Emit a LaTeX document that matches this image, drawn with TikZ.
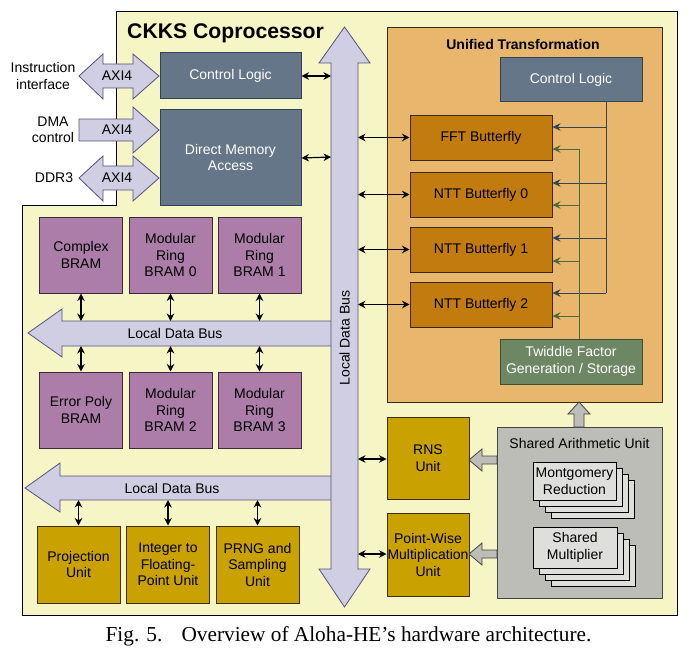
\documentclass[tikz,border=0pt]{standalone}
\usepackage{fontspec}
\setmainfont{Liberation Serif}
\newfontfamily\arialf{Liberation Sans}
\usetikzlibrary{arrows.meta}
\definecolor{bgyel}{HTML}{F6F5C5}
\definecolor{busF}{HTML}{D0CEE2}
\definecolor{busB}{HTML}{56517E}
\definecolor{slateF}{HTML}{647687}
\definecolor{slateB}{HTML}{314354}
\definecolor{purF}{HTML}{AB7DA8}
\definecolor{purB}{HTML}{3C2A3C}
\definecolor{goldF}{HTML}{C9A100}
\definecolor{goldB}{HTML}{3A3000}
\definecolor{utF}{HTML}{E8B66C}
\definecolor{utB}{HTML}{3A2A1A}
\definecolor{bflyF}{HTML}{C27B0E}
\definecolor{bflyB}{HTML}{3A2600}
\definecolor{twF}{HTML}{6D8764}
\definecolor{twB}{HTML}{3A5431}
\definecolor{greenL}{HTML}{4D6B3A}
\definecolor{sauF}{HTML}{BBBDB6}
\definecolor{sauB}{HTML}{444444}
\definecolor{stackF}{HTML}{DEDFDA}
\tikzset{
  txt/.style={font=\arialf\fontsize{14}{16.5}\selectfont, align=center, inner sep=0pt},
  slatebox/.style={txt, draw=slateB, fill=slateF, text=white, line width=1pt},
  purbox/.style={txt, draw=purB, fill=purF, line width=1pt, minimum width=83pt, minimum height=76pt},
  goldbox/.style={txt, draw=goldB, fill=goldF, line width=1pt},
  bflybox/.style={txt, draw=bflyB, fill=bflyF, line width=1pt, minimum width=142pt, minimum height=45pt},
  busshape/.style={fill=busF, draw=busB, line width=0.8pt},
  grayarrow/.style={fill=sauF, draw=sauB, line width=0.8pt},
  stackbox/.style={fill=stackF, draw=black, line width=0.9pt},
  biarr/.style={{Stealth[length=7.5pt,width=7.5pt]}-{Stealth[length=7.5pt,width=7.5pt]}, line width=1.2pt, black},
  ctrlarr/.style={-{Stealth[length=8pt,width=7.5pt]}, line width=1pt, draw=slateB},
  twarr/.style={-{Stealth[length=8pt,width=7.5pt]}, line width=1pt, draw=greenL},
}
\begin{document}
\begin{tikzpicture}[x=1pt,y=-1pt]
\useasboundingbox (0,0) rectangle (694,661);
% outer coprocessor region
\draw[fill=bgyel, line width=1pt] (116,12) -- (677,12) -- (677,615) -- (22,615) -- (22,205) -- (116,205) -- cycle;
\node[txt, font=\arialf\bfseries\fontsize{21.2}{24}\selectfont, anchor=west] (title) at (127,33) {CKKS Coprocessor};

% external interface arrows
\draw[busshape] (79,76) -- (103,54) -- (103,64) -- (133,64) -- (133,54) -- (159,76) -- (133,99) -- (133,88) -- (103,88) -- (103,99) -- cycle;
\draw[busshape] (79,119) -- (133,119) -- (133,107) -- (159,130) -- (133,153) -- (133,141) -- (79,141) -- cycle;
\draw[busshape] (79,178) -- (103,156) -- (103,166) -- (133,166) -- (133,156) -- (159,178) -- (133,201) -- (133,190) -- (103,190) -- (103,201) -- cycle;
\node[txt] (axa) at (117,76) {AXI4};
\node[txt] (axb) at (117,130) {AXI4};
\node[txt] (axc) at (117,178) {AXI4};
\node[txt] (l1) at (43,76) {Instruction\\interface};
\node[txt] (l2) at (53,130) {DMA\\control};
\node[txt] (l3) at (54,178) {DDR3};

% horizontal local data buses
\draw[busshape] (28,333) -- (62,309) -- (62,321) -- (340,321) -- (340,346) -- (62,346) -- (62,357) -- cycle;
\node[txt] (hb1) at (175,333) {Local Data Bus};
\draw[busshape] (25,488) -- (60,463) -- (60,476) -- (340,476) -- (340,500) -- (60,500) -- (60,512) -- cycle;
\node[txt] (hb2) at (172,488) {Local Data Bus};

% vertical local data bus
\draw[busshape] (344.5,27) -- (370,63) -- (358,63) -- (358,569) -- (370,569) -- (344.5,607) -- (319,569) -- (331,569) -- (331,63) -- (319,63) -- cycle;
\node[txt, rotate=90] (vb) at (344.5,338) {Local Data Bus};

% left blocks
\node[slatebox, minimum width=141pt, minimum height=46pt] (cl1) at (230.5,76) {Control Logic};
\node[slatebox, minimum width=141pt, minimum height=95pt] (dma) at (230.5,157.5) {Direct Memory\\Access};

\node[purbox] (b1) at (81,255) {Complex\\BRAM};
\node[purbox] (b2) at (170.5,255) {Modular\\Ring\\BRAM 0};
\node[purbox] (b3) at (259.5,255) {Modular\\Ring\\BRAM 1};
\node[purbox] (b4) at (81,410) {Error Poly\\BRAM};
\node[purbox] (b5) at (170.5,410) {Modular\\Ring\\BRAM 2};
\node[purbox] (b6) at (259.5,410) {Modular\\Ring\\BRAM 3};

\node[goldbox, minimum width=83pt, minimum height=77pt] (u1) at (78.5,564.5) {Projection\\Unit};
\node[goldbox, minimum width=83pt, minimum height=77pt] (u2) at (168,564.5) {Integer to\\Floating-\\Point Unit};
\node[goldbox, minimum width=83pt, minimum height=77pt] (u3) at (257.5,564.5) {PRNG and\\Sampling\\Unit};

% bus taps
\coordinate (t1) at (81,321); \coordinate (t2) at (170.5,321); \coordinate (t3) at (259.5,321);
\coordinate (s1) at (81,346); \coordinate (s2) at (170.5,346); \coordinate (s3) at (259.5,346);
\coordinate (p1) at (78.5,500); \coordinate (p2) at (168,500); \coordinate (p3) at (257.5,500);
\draw[biarr] (b1.south) -- (t1);
\draw[biarr] (b2.south) -- (t2);
\draw[biarr] (b3.south) -- (t3);
\draw[biarr] (s1) -- (b4.north);
\draw[biarr] (s2) -- (b5.north);
\draw[biarr] (s3) -- (b6.north);
\draw[biarr] (p1) -- (u1.north);
\draw[biarr] (p2) -- (u2.north);
\draw[biarr] (p3) -- (u3.north);

\coordinate (vcl) at (331,76);
\coordinate (vdma) at (331,157);
\draw[biarr] (cl1.east) -- (vcl);
\draw[biarr] ([yshift=-0.5pt]dma.east) -- (vdma);

% unified transformation
\node[draw=utB, fill=utF, line width=1pt, minimum width=275pt, minimum height=374pt, inner sep=0pt] (ut) at (524.5,215) {};
\node[txt, font=\arialf\bfseries\fontsize{14}{16.5}\selectfont] (utt) at (523,44) {Unified Transformation};
\node[slatebox, minimum width=142pt, minimum height=44pt] (cl2) at (571,80) {Control Logic};
\node[bflybox] (fft) at (481,137.5) {FFT Butterfly};
\node[bflybox] (n0) at (481,194.5) {NTT Butterfly 0};
\node[bflybox] (n1) at (481,249.5) {NTT Butterfly 1};
\node[bflybox] (n2) at (481,304.5) {NTT Butterfly 2};
\node[txt, draw=twB, fill=twF, text=white, line width=1pt, minimum width=142pt, minimum height=45pt] (tw) at (571,361.5) {Twiddle Factor\\Generation / Storage};

% control lines
\coordinate (cj) at (606,293);
\draw[line width=1pt, draw=slateB] (cl2.south -| cj) -- (cj);
\foreach \yy/\nn in {127/fft,183/n0,238/n1,293/n2}{
  \draw[ctrlarr] (606,\yy) -- (\nn.east |- 0,\yy);
}
% twiddle lines
\draw[line width=1pt, draw=greenL] (tw.north -| 579,0) -- (579,149);
\foreach \yy/\nn in {149/fft,205/n0,261/n1,316/n2}{
  \draw[twarr] (579,\yy) -- (\nn.east |- 0,\yy);
}

% bus to butterflies
\foreach \nn in {fft,n0,n1,n2}{
  \draw[biarr] (358,0 |- \nn.west) -- (\nn.west);
}

% RNS / PW
\node[goldbox, minimum width=82pt, minimum height=82pt] (rns) at (428,458) {RNS\\Unit};
\node[goldbox, minimum width=82pt, minimum height=83pt] (pw) at (428,554.5) {Point-Wise\\Multiplication\\Unit};
\draw[biarr] (358,459) -- (rns.west |- 0,459);
\draw[biarr] (358,554) -- (pw.west |- 0,554);

% shared arithmetic unit
\node[draw=sauB, fill=sauF, line width=1pt, minimum width=165pt, minimum height=171pt, inner sep=0pt] (sau) at (579.5,512.5) {};
\node[txt] (saut) at (579.5,443) {Shared Arithmetic Unit};
\foreach \k in {3,2,1}{
  \draw[stackbox] (533+6*\k,462+6*\k) rectangle (616+6*\k,500+6*\k);
  \draw[stackbox] (533+6*\k,527+6*\k) rectangle (617+6*\k,568+6*\k);
}
\node[txt, fill=stackF, draw=black, line width=0.9pt, minimum width=83pt, minimum height=38pt] (mont) at (574.5,481) {Montgomery\\Reduction};
\node[txt, fill=stackF, draw=black, line width=0.9pt, minimum width=84pt, minimum height=41pt] (smul) at (575,547.5) {Shared\\Multiplier};

% gray block arrows
\draw[grayarrow] (579,402) -- (590,414) -- (584,414) -- (584,427) -- (574,427) -- (574,414) -- (568,414) -- cycle;
\draw[grayarrow] (469,460) -- (482,449) -- (482,456) -- (497,456) -- (497,464) -- (482,464) -- (482,471) -- cycle;
\draw[grayarrow] (469,554) -- (482,543) -- (482,550) -- (497,550) -- (497,558) -- (482,558) -- (482,565) -- cycle;

% caption
\node[font=\fontsize{21.3}{25}\selectfont, inner sep=0pt] (cap) at (348.5,636) {Fig. 5.\hspace{0.9em}Overview of Aloha-HE’s hardware architecture.};
\end{tikzpicture}
\end{document}
